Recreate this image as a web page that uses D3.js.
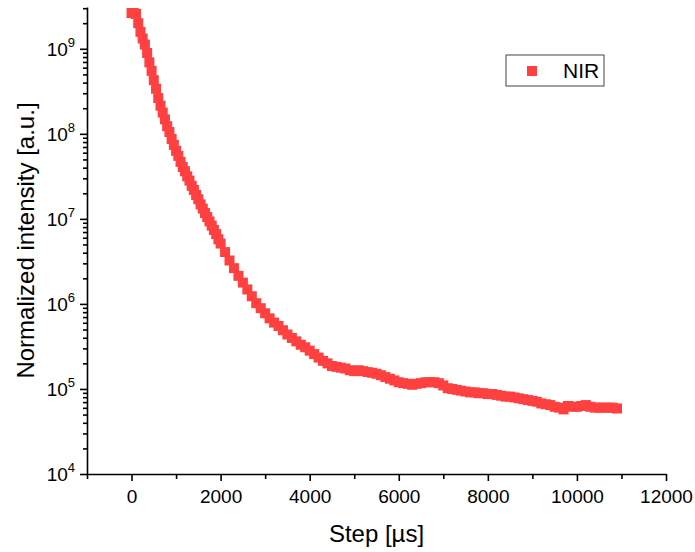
<!DOCTYPE html>
<html>
<head>
<meta charset="utf-8">
<script src="https://cdn.jsdelivr.net/npm/d3@7"></script>
<style>
  body { margin: 0; background: #fff; }
  text { font-family: Arial, "Liberation Sans", sans-serif; fill: #000; }
</style>
</head>
<body>
<div class="chart"></div>
<script>
// NIR decay, normalized intensity vs step, log y axis

// x values (step in µs): every 50 µs on the steep part, then every 100 µs
var steps = d3.range(0, 2000, 50).concat(d3.range(2000, 11000, 100));

// intensity
var nirValues = [
    // 0 - 950 (50 µs)
    2.63e9, 2.63e9, 2.57e9, 2.00e9, 1.58e9, 1.32e9, 1.12e9, 8.91e8, 6.92e8, 5.50e8,
    4.27e8, 3.39e8, 2.63e8, 2.14e8, 1.78e8, 1.48e8, 1.23e8, 1.05e8, 8.71e7, 7.41e7,
    // 1000 - 1950 (50 µs)
    6.31e7, 5.50e7, 4.68e7, 4.07e7, 3.63e7, 3.16e7, 2.82e7, 2.45e7, 2.19e7, 1.91e7,
    1.70e7, 1.48e7, 1.32e7, 1.17e7, 1.05e7, 9.33e6, 8.32e6, 7.41e6, 6.61e6, 5.75e6,
    // 2000 - 10900 (100 µs)
    5.13e6, 4.07e6, 3.24e6, 2.63e6, 2.14e6, 1.78e6, 1.48e6, 1.23e6, 1.02e6, 8.91e5,
    7.76e5, 6.76e5, 6.03e5, 5.50e5, 4.90e5, 4.37e5, 3.98e5, 3.63e5, 3.31e5, 3.09e5,
    2.82e5, 2.57e5, 2.34e5, 2.14e5, 2.00e5, 1.86e5, 1.82e5, 1.78e5, 1.74e5, 1.66e5,
    1.62e5, 1.66e5, 1.62e5, 1.58e5, 1.55e5, 1.51e5, 1.45e5, 1.38e5, 1.32e5, 1.26e5,
    1.20e5, 1.17e5, 1.15e5, 1.12e5, 1.15e5, 1.17e5, 1.20e5, 1.20e5, 1.20e5, 1.17e5,
    1.10e5, 1.02e5, 1.00e5, 9.77e4, 9.55e4, 9.33e4, 9.12e4, 9.12e4, 8.91e4, 8.91e4,
    8.71e4, 8.71e4, 8.51e4, 8.32e4, 8.13e4, 8.13e4, 7.94e4, 7.76e4, 7.59e4, 7.41e4,
    7.24e4, 7.08e4, 6.76e4, 6.61e4, 6.46e4, 6.17e4, 6.03e4, 5.75e4, 6.31e4, 6.17e4,
    6.17e4, 6.31e4, 6.46e4, 6.17e4, 6.03e4, 6.03e4, 6.03e4, 6.03e4, 6.03e4, 5.89e4
];

var seriesName = "NIR";

// tick labels
var xTicks = [0, 2000, 4000, 6000, 8000, 10000, 12000];
var xMinorTicks = [-1000, 1000, 3000, 5000, 7000, 9000, 11000];
var yExponents = [4, 5, 6, 7, 8, 9];

// svg size
var svgWidth = 695;
var svgHeight = 552;

var margin = { top: 7, right: 29, bottom: 78, left: 87 };

var width = svgWidth - margin.left - margin.right;
var height = svgHeight - margin.top - margin.bottom;

var markerColor = "#ff4040";

var svg = d3.select(".chart")
    .append("svg")
    .attr("width", svgWidth)
    .attr("height", svgHeight);

var chart = svg.append("g")
    .attr("transform", "translate(" + margin.left + "," + margin.top + ")");

var data = steps.map(function(s, i) {
    return { step: s, value: nirValues[i] };
});

// scales
var xScale = d3.scaleLinear()
    .domain([-1000, 12000])
    .range([0, width]);

var yScale = d3.scaleLog()
    .domain([1e4, 3.1e9])
    .range([height, 0]);

// minor log ticks 2..9 in each decade
var yMinorTicks = [];
yExponents.forEach(function(e) {
    for (var k = 2; k <= 9; k++) {
        var v = k * Math.pow(10, e);
        if (v <= yScale.domain()[1]) yMinorTicks.push(v);
    }
});
var yMajorTicks = yExponents.map(function(e) { return Math.pow(10, e); });

// markers
chart.selectAll("rect.pt")
    .data(data)
    .enter().append("rect")
    .attr("class", "pt")
    .attr("x", function(d) { return xScale(d.step) - 5; })
    .attr("y", function(d) { return yScale(d.value) - 5; })
    .attr("width", 10)
    .attr("height", 10)
    .attr("fill", markerColor);

// x axis
var xAxis = chart.append("g")
    .attr("transform", "translate(0," + height + ")")
    .call(d3.axisBottom(xScale)
        .tickValues(xTicks)
        .tickFormat(d3.format("d"))
        .tickSize(7)
        .tickPadding(9)
        .tickSizeOuter(0));

chart.append("g")
    .attr("transform", "translate(0," + height + ")")
    .call(d3.axisBottom(xScale).tickValues(xMinorTicks).tickSize(5).tickFormat("").tickSizeOuter(0))
    .select(".domain").remove();

xAxis.selectAll("text")
    .style("font-size", "19px")
    .style("font-family", "Arial, 'Liberation Sans', sans-serif");

// y axis
var yAxis = chart.append("g")
    .call(d3.axisLeft(yScale).tickValues(yMajorTicks).tickSize(7).tickFormat("").tickSizeOuter(0));

chart.append("g")
    .call(d3.axisLeft(yScale).tickValues(yMinorTicks).tickSize(4).tickFormat("").tickSizeOuter(0))
    .select(".domain").remove();

// y tick labels as 10^n
var yLabels = chart.append("g");
yExponents.forEach(function(e) {
    var t = yLabels.append("text")
        .attr("x", -12)
        .attr("y", yScale(Math.pow(10, e)) + 7)
        .attr("text-anchor", "end")
        .style("font-size", "19px");
    t.append("tspan").text("10");
    t.append("tspan")
        .attr("dy", -9)
        .style("font-size", "13px")
        .text(e);
});

chart.selectAll(".domain, .tick line")
    .attr("stroke", "#000")
    .attr("stroke-width", 1.6);

// axis titles
chart.append("text")
    .attr("x", width / 2)
    .attr("y", height + 68)
    .attr("text-anchor", "middle")
    .style("font-size", "24px")
    .text("Step [µs]");

chart.append("text")
    .attr("transform", "rotate(-90)")
    .attr("x", -height / 2)
    .attr("y", -53)
    .attr("text-anchor", "middle")
    .style("font-size", "24px")
    .text("Normalized intensity [a.u.]");

// legend
var legend = svg.append("g")
    .attr("transform", "translate(506,55)");

legend.append("rect")
    .attr("width", 98)
    .attr("height", 31)
    .attr("fill", "#fff")
    .attr("stroke", "#444")
    .attr("stroke-width", 1);

legend.append("rect")
    .attr("x", 21)
    .attr("y", 11)
    .attr("width", 10)
    .attr("height", 10)
    .attr("fill", markerColor);

legend.append("text")
    .attr("x", 57)
    .attr("y", 23)
    .style("font-size", "21px")
    .text(seriesName);
</script>
</body>
</html>
